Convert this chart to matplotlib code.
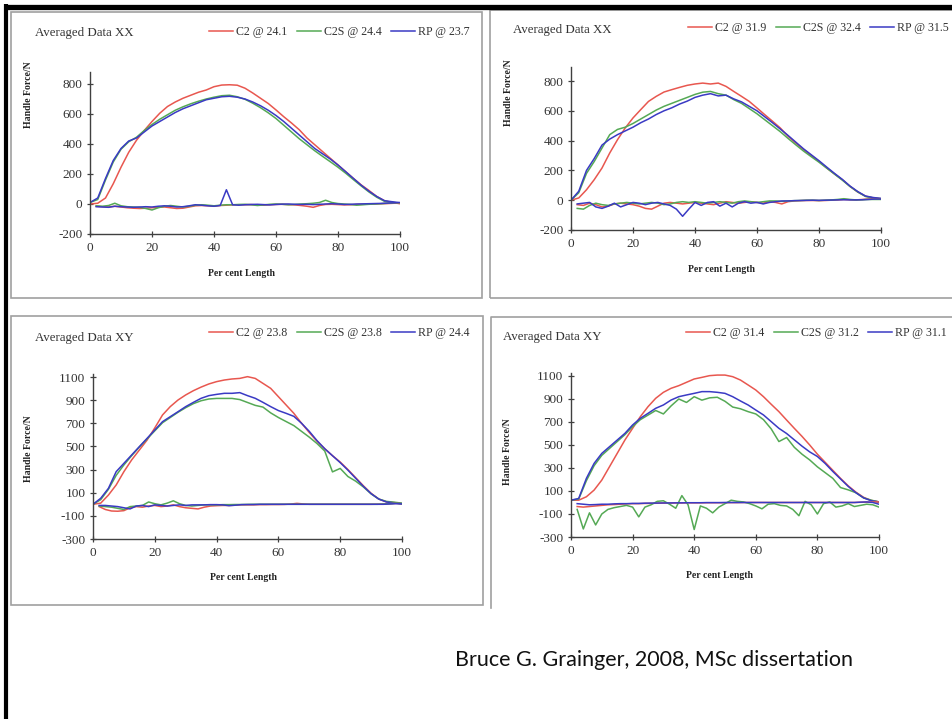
import numpy as np
import matplotlib.pyplot as plt
from matplotlib.lines import Line2D
from matplotlib.patches import Rectangle

plt.rcParams["axes.unicode_minus"] = False

W, H = 953, 719

# per cent of stroke length: main curves every 2.5 %, side-force curves every 2 %
pct = np.linspace(0, 100, 41)
pct_low = np.arange(2, 101, 2)

series_names = ["C2", "C2S", "RP"]

# ---- Averaged Data XX, low rate ----
xx1_rates = ["24.1", "24.4", "23.7"]
xx1_c2 = [0, 5, 40, 135, 245, 345, 425, 490, 550, 605, 650, 680, 705, 725, 745, 760, 782, 793, 795, 792,
          772, 740, 705, 670, 627, 582, 540, 495, 440, 395, 350, 305, 260, 215, 170, 127, 90, 50, 22, 10, 2]
xx1_c2s = [10, 30, 160, 280, 365, 415, 445, 490, 530, 565, 595, 625, 648, 668, 685, 700, 712, 722, 725, 715,
           698, 672, 642, 608, 570, 525, 480, 435, 395, 355, 318, 282, 245, 205, 162, 120, 80, 45, 18, 12, 5]
xx1_rp = [10, 40, 170, 290, 370, 420, 440, 480, 520, 550, 580, 610, 635, 655, 675, 695, 705, 715, 718, 712,
          700, 680, 655, 625, 590, 550, 505, 460, 415, 370, 335, 300, 260, 215, 170, 125, 85, 50, 22, 15, 8]
xx1_c2_low = [-15, -18, -20, -15, -20, -25, -28, -30, -28, -25, -22, -20, -25, -30, -28, -20, -12, -10, -12, -15,
              -10, -8, -6, -5, -5, -4, -6, -8, -5, -3, -2, -4, -6, -10, -15, -22, -10, -3, -2, -4,
              -6, -5, -3, -2, -1, 0, 2, 3, 5, 5]
xx1_c2s_low = [-12, -15, -10, 5, -12, -18, -20, -22, -30, -40, -25, -15, -10, -15, -20, -15, -8, -5, -8, -12,
               -8, -5, -5, -3, -2, -5, -10, -6, -2, 0, -2, -5, -3, 0, 2, 5, 10, 25, 10, 3,
               0, -3, -8, -5, -2, 0, 2, 5, 8, 8]
xx1_rp_low = [-18, -20, -22, -15, -18, -20, -22, -20, -18, -20, -15, -12, -15, -20, -18, -12, -5, -8, -12, -15,
              -10, 95, -5, -8, -5, -3, -2, -4, -6, -3, -1, 0, -2, -3, -2, -4, -2, 0, 2, 0,
              -3, -2, 0, 1, 2, 3, 4, 6, 8, 10]

# ---- Averaged Data XX, high rate ----
xx2_rates = ["31.9", "32.4", "31.5"]
xx2_c2 = [0, 15, 70, 138, 216, 317, 406, 485, 552, 608, 663, 697, 726, 742, 757, 771, 780, 786, 780, 786,
          764, 730, 697, 663, 619, 574, 530, 485, 430, 384, 340, 300, 260, 216, 176, 138, 93, 55, 27, 15, 10]
xx2_c2s = [0, 50, 180, 260, 350, 440, 475, 490, 515, 545, 575, 605, 630, 650, 670, 690, 710, 725, 730, 715,
           705, 675, 650, 615, 580, 540, 500, 460, 415, 372, 330, 292, 255, 215, 175, 135, 92, 55, 25, 15, 10]
xx2_rp = [0, 60, 200, 280, 370, 410, 440, 465, 490, 520, 545, 575, 600, 620, 645, 665, 690, 705, 715, 700,
          705, 680, 660, 630, 600, 560, 520, 478, 435, 390, 345, 305, 265, 222, 180, 140, 95, 58, 28, 18, 12]
xx2_c2_low = [-30, -35, -20, -30, -45, -40, -25, -20, -25, -30, -40, -55, -60, -40, -20, -15, -20, -25, -20, -15,
              -20, -25, -30, -20, -10, -15, -20, -15, -10, -15, -20, -10, -15, -25, -10, -5, -3, -2, -2, -3,
              -2, 0, 2, 5, 3, 2, 5, 8, 10, 8]
xx2_c2s_low = [-55, -60, -35, -20, -30, -35, -25, -20, -15, -20, -25, -20, -15, -20, -30, -25, -15, -10, -15, -10,
               -15, -20, -15, -10, -15, -20, -10, -5, -10, -15, -10, -5, -5, -8, -5, -3, -2, 0, 0, -2,
               0, 2, 5, 10, 5, 2, 3, 5, 5, 5]
xx2_rp_low = [-25, -20, -15, -45, -55, -40, -20, -45, -30, -15, -20, -30, -20, -15, -25, -35, -60, -108, -60, -15,
              -35, -15, -10, -40, -20, -45, -20, -10, -20, -15, -25, -15, -10, -5, -5, -3, -2, -1, 0, -1,
              0, 1, 2, 3, 2, 2, 3, 5, 8, 8]

# ---- Averaged Data XY, low rate ----
xy1_rates = ["23.8", "23.8", "24.4"]
xy1_c2 = [0, 10, 80, 167, 282, 383, 469, 555, 660, 772, 844, 901, 945, 982, 1013, 1040, 1060, 1074, 1083, 1088,
          1103, 1088, 1045, 1002, 930, 858, 786, 700, 620, 545, 480, 420, 365, 300, 230, 160, 95, 45, 20, 15, 5]
xy1_c2s = [0, 40, 130, 250, 340, 420, 495, 565, 635, 705, 750, 795, 835, 870, 895, 910, 915, 915, 915, 905,
           880, 855, 840, 790, 750, 715, 680, 630, 580, 525, 460, 280, 310, 240, 200, 150, 90, 45, 25, 18, 10]
xy1_rp = [0, 52, 138, 282, 354, 426, 498, 570, 642, 714, 757, 800, 844, 881, 916, 939, 950, 959, 959, 965,
          939, 916, 881, 844, 810, 786, 760, 700, 630, 550, 480, 420, 360, 295, 225, 155, 92, 45, 20, 12, 5]
xy1_c2_low = [-20, -45, -58, -60, -55, -30, -20, -25, -15, -10, -20, -15, -5, -20, -30, -35, -40, -25, -15, -12,
              -10, -10, -8, -5, -5, -5, -3, -3, -2, -2, -1, 2, 8, 3, 0, 0, 0, 0, 0, 0,
              0, 0, 0, 0, 0, 1, 2, 5, 8, 5]
xy1_c2s_low = [-15, -20, -25, -35, -45, -20, -15, -10, 20, 5, -5, 10, 30, 5, -10, -15, -10, -5, -5, -5,
               -3, -3, -2, -2, -1, 0, 0, 0, 0, 0, 0, 0, 0, 0, 0, 0, 0, 0, 0, 0,
               0, 0, 0, 0, 0, 0, 2, 5, 10, 5]
xy1_rp_low = [-10, -10, -15, -20, -30, -40, -15, -10, -20, -5, -10, -15, -10, -5, -10, -5, -5, -5, -3, -3,
              -5, -12, -8, -3, -2, -2, 0, 0, 0, 0, 0, 0, 0, 0, 0, 0, 0, 0, 0, 0,
              0, 0, 0, 0, 0, 0, 0, 3, 5, 3]

# ---- Averaged Data XY, high rate ----
xy2_rates = ["31.4", "31.2", "31.1"]
xy2_c2 = [20, 20, 50, 108, 195, 311, 427, 543, 645, 746, 833, 906, 958, 993, 1016, 1045, 1074, 1088, 1103, 1108,
          1108, 1094, 1065, 1022, 978, 920, 854, 790, 717, 645, 575, 500, 420, 350, 280, 210, 145, 90, 45, 18, 5]
xy2_c2s = [20, 30, 190, 320, 410, 470, 530, 590, 660, 720, 760, 800, 770, 840, 900, 870, 920, 890, 910, 915,
           880, 830, 815, 790, 770, 720, 640, 530, 565, 480, 420, 370, 310, 260, 210, 130, 110, 85, 40, 20, 5]
xy2_rp = [20, 35, 210, 340, 427, 485, 543, 601, 674, 732, 775, 819, 848, 891, 920, 935, 949, 964, 964, 958,
          949, 920, 883, 848, 804, 761, 703, 645, 600, 545, 490, 440, 400, 340, 270, 205, 140, 85, 40, 15, 5]
xy2_c2_low = [-35, -40, -35, -30, -25, -20, -18, -15, -12, -10, -10, -8, -8, -6, -5, -5, -4, -4, -3, -3,
              -3, -2, -2, -2, -2, -1, -1, 0, 0, 0, 0, 0, 0, 0, 0, 0, 0, 0, 0, 0,
              0, 0, 0, 0, 0, 0, 2, 3, 5, 5]
xy2_c2s_low = [-60, -230, -90, -195, -100, -60, -45, -35, -25, -40, -125, -40, -20, 10, 15, -15, -50, 60, -20, -235,
               -30, -50, -90, -40, -10, 20, 10, 5, -10, -30, -55, -15, -10, -25, -30, -60, -115, 10, -20, -100,
               -10, 5, -40, -30, -10, -35, -25, -15, -20, -40]
xy2_rp_low = [-10, -15, -20, -18, -15, -15, -12, -10, -10, -8, -8, -6, -5, -5, -4, -4, -3, -3, -2, -2,
              -2, -1, -1, -1, 0, 0, 0, 0, 0, 0, 0, 0, 0, 0, 0, 0, 0, 0, 0, 0,
              0, 0, 0, 0, 0, 0, 3, 5, 0, -15]

colors = ["#e8574f", "#55a955", "#3a3ac4"]
serif = "Liberation Serif"


def fx(x):
    return x / W


def fy(y):
    return 1 - y / H


fig = plt.figure(figsize=(W / 100, H / 100), dpi=100)


def panel(box, title, rates, main, low, ylim, yticks, title_xy, leg_xy, ylab_xy, xlab_xy):
    left, right, top, bottom = box
    ax = fig.add_axes([fx(left), fy(bottom), (right - left) / W, (bottom - top) / H])
    for name, rate, ys, c in zip(series_names, rates, main, colors):
        ax.plot(pct, ys, color=c, lw=1.1, label="{} @ {}".format(name, rate))
    for ys, c in zip(low, colors):
        ax.plot(pct_low, ys, color=c, lw=1.1)
    ax.set_xlim(0, 100)
    ax.set_ylim(*ylim)
    ax.set_xticks(range(0, 101, 20))
    ax.set_yticks(yticks)
    for s in ["top", "right"]:
        ax.spines[s].set_visible(False)
    for s in ["left", "bottom"]:
        ax.spines[s].set_color("#404040")
        ax.spines[s].set_linewidth(1.0)
    ax.tick_params(direction="inout", length=5, width=0.9, color="#404040",
                   labelsize=9.5, labelcolor="#333333", pad=3)
    for lab in ax.get_xticklabels() + ax.get_yticklabels():
        lab.set_family(serif)
    ax.patch.set_alpha(0)

    fig.text(fx(title_xy[0]), fy(title_xy[1]), title, family=serif, fontsize=9.3,
             color="#333333", va="center", ha="left")
    fig.text(fx(ylab_xy[0]), fy(ylab_xy[1]), "Handle Force/N", family=serif, fontsize=7,
             fontweight="bold", rotation=90, va="center", ha="center", color="#222222")
    fig.text(fx(xlab_xy[0]), fy(xlab_xy[1]), "Per cent Length", family=serif, fontsize=7,
             fontweight="bold", va="center", ha="center", color="#222222")
    ax.legend(loc="center left", bbox_to_anchor=(fx(leg_xy[0]), fy(leg_xy[1])),
              bbox_transform=fig.transFigure, ncol=3, frameon=False,
              borderpad=0, borderaxespad=0, handlelength=2.0, handletextpad=0.3,
              columnspacing=0.75, prop={"family": serif, "size": 8.6}, labelcolor="#333333")
    return ax


# panel frames
frame = "#a0a0a0"
fig.add_artist(Rectangle((fx(11), fy(298)), (482 - 11) / W, (298 - 12) / H,
                         transform=fig.transFigure, fill=False, ec=frame, lw=1.2))
fig.add_artist(Rectangle((fx(490), fy(298)), (960 - 490) / W, (298 - 10) / H,
                         transform=fig.transFigure, fill=False, ec=frame, lw=1.2))
fig.add_artist(Rectangle((fx(11), fy(605)), (483 - 11) / W, (605 - 316) / H,
                         transform=fig.transFigure, fill=False, ec=frame, lw=1.2))
fig.add_artist(Line2D([fx(491), fx(491), fx(960)], [fy(608), fy(317), fy(317)],
                      transform=fig.transFigure, color=frame, lw=1.2))

# outer black border on top and left
fig.add_artist(Line2D([fx(4), fx(953)], [fy(6.5), fy(6.5)], transform=fig.transFigure,
                      color="black", lw=3.8, solid_capstyle="butt"))
fig.add_artist(Line2D([fx(6), fx(6)], [fy(4), fy(719)], transform=fig.transFigure,
                      color="black", lw=3.0, solid_capstyle="butt"))

panel((90, 400, 72, 234), "Averaged Data XX", xx1_rates,
      [xx1_c2, xx1_c2s, xx1_rp], [xx1_c2_low, xx1_c2s_low, xx1_rp_low],
      (-200, 880), range(-200, 801, 200), (35, 33), (209, 32), (29, 95), (242, 274))
panel((571, 881, 67, 230), "Averaged Data XX", xx2_rates,
      [xx2_c2, xx2_c2s, xx2_rp], [xx2_c2_low, xx2_c2s_low, xx2_rp_low],
      (-200, 894), range(-200, 801, 200), (513, 30), (688, 28), (509, 93), (721, 269))
panel((93, 402, 374, 539), "Averaged Data XY", xy1_rates,
      [xy1_c2, xy1_c2s, xy1_rp], [xy1_c2_low, xy1_c2s_low, xy1_rp_low],
      (-300, 1126), range(-300, 1101, 200), (35, 338), (209, 333), (29, 449), (243, 578))
panel((571, 879, 373, 537), "Averaged Data XY", xy2_rates,
      [xy2_c2, xy2_c2s, xy2_rp], [xy2_c2_low, xy2_c2s_low, xy2_rp_low],
      (-300, 1126), range(-300, 1101, 200), (503, 337), (686, 333), (507, 452), (720, 576))

fig.text(fx(455), fy(660), "Bruce G. Grainger, 2008, MSc dissertation", family="Lato",
         fontsize=15.5, va="center", ha="left", color="#111111")

fig.savefig("out.png", dpi=100)
